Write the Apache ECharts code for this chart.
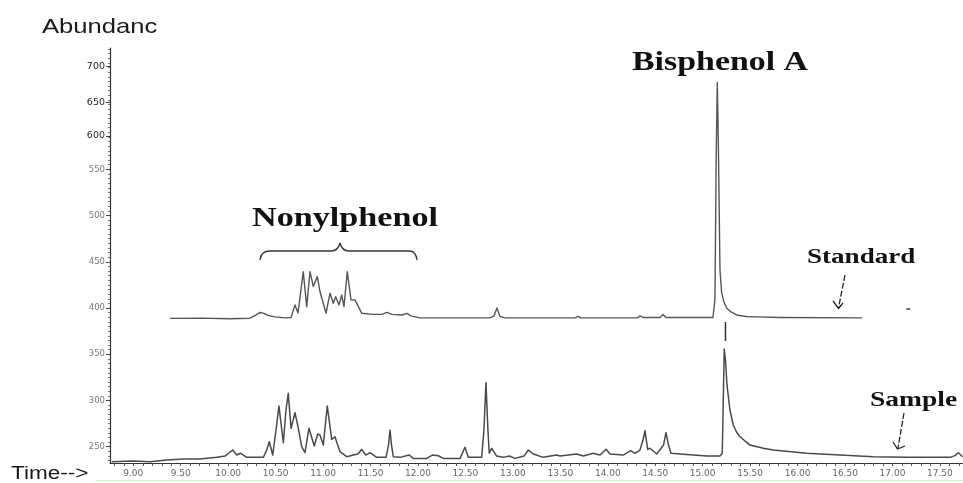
<!DOCTYPE html>
<html><head><meta charset="utf-8">
<script src="https://cdn.jsdelivr.net/npm/echarts@6.0.0/dist/echarts.min.js"></script>
<style>html,body{margin:0;padding:0;background:#fff}#c{width:963px;height:483px}</style>
</head><body><div id="c"></div>
<script>
// ---- data (retention time in min, abundance) ----
const standardTime = [9.387,9.703,10.019,10.230,10.293,10.335,10.377,10.419,10.493,10.599,10.662,10.704,10.736,10.791,10.827,10.862,10.897,10.939,10.967,11.031,11.073,11.107,11.133,11.168,11.196,11.220,11.255,11.294,11.336,11.407,11.526,11.621,11.673,11.726,11.831,11.884,11.926,12.021,12.442,12.758,12.800,12.832,12.864,12.917,13.654,13.686,13.718,14.308,14.340,14.371,14.550,14.582,14.613,15.108,15.129,15.143,15.154,15.166,15.182,15.200,15.224,15.253,15.298,15.358,15.456,15.569,15.815,16.679];
const standardAbundance = [388.8,389.1,388.4,389.0,392.5,395.2,394.2,392.0,390.4,389.3,389.8,403.4,394.7,439.4,401.5,439.4,423.2,434.0,417.8,394.4,416.0,405.2,412.3,403.4,414.2,401.5,439.4,408.8,408.8,394.4,393.1,393.1,395.2,393.1,392.5,394.2,391.5,389.3,389.3,389.3,391.5,400.1,390.9,389.3,389.3,390.9,389.3,389.3,391.5,389.8,389.8,393.1,389.8,389.8,408.8,571.1,644.0,571.1,441.2,416.3,406.6,400.1,395.8,392.5,390.9,390.4,389.8,389.3];
const sampleTime = [8.772,8.997,9.176,9.352,9.524,9.703,9.879,9.966,10.008,10.047,10.090,10.132,10.195,10.370,10.406,10.433,10.469,10.504,10.535,10.581,10.609,10.633,10.662,10.704,10.739,10.775,10.809,10.851,10.907,10.943,10.967,11.002,11.044,11.091,11.125,11.178,11.249,11.318,11.368,11.407,11.449,11.494,11.565,11.663,11.689,11.705,11.721,11.740,11.810,11.908,11.950,12.092,12.151,12.214,12.267,12.443,12.495,12.530,12.671,12.695,12.716,12.737,12.751,12.777,12.829,12.899,12.962,13.022,13.117,13.162,13.215,13.320,13.461,13.496,13.672,13.742,13.847,13.918,13.981,14.023,14.163,14.241,14.287,14.339,14.371,14.392,14.420,14.445,14.515,14.587,14.613,14.640,14.666,14.761,14.901,15.042,15.182,15.206,15.217,15.227,15.240,15.256,15.287,15.322,15.356,15.393,15.498,15.639,15.744,16.096,16.447,16.798,17.150,17.606,17.658,17.693,17.740];
const sampleAbundance = [233.8,234.5,233.8,235.6,236.7,236.7,238.5,239.9,243.2,246.4,241.0,242.9,238.5,238.5,246.4,255.4,241.0,268.1,294.0,254.3,289.7,307.8,269.9,286.8,269.9,250.0,243.5,269.9,250.8,263.7,262.7,251.8,294.0,258.0,260.8,244.6,239.2,241.0,242.1,247.2,241.0,243.5,238.5,238.5,251.8,268.1,251.8,239.2,238.5,241.0,237.4,237.4,241.0,240.2,237.4,237.4,249.4,238.5,238.5,268.1,319.3,268.1,242.9,248.3,239.9,238.5,239.9,237.4,239.9,246.4,242.1,238.5,241.0,239.9,242.1,239.9,242.9,241.0,247.2,242.1,241.0,245.7,242.9,246.4,257.3,267.3,247.2,248.3,242.1,251.8,265.2,251.8,242.9,242.1,241.0,239.9,239.9,242.9,300.5,355.7,343.8,316.8,289.7,273.5,265.9,260.8,251.8,248.3,246.4,242.9,241.0,239.2,238.5,238.5,240.4,243.5,239.2];
// small fragments of the original trace picture
const standardDotTime = [17.145,17.187];
const standardDotAbundance = [398.9,398.9];
const markTickTime = [15.240,15.240];
const markTickAbundance = [385.0,364.4];

const xTickLabels = ['9.00','9.50','10.00','10.50','11.00','11.50','12.00','12.50','13.00','13.50','14.00','14.50','15.00','15.50','16.00','16.50','17.00','17.50'];
const yTickLabels = ['250','300','350','400','450','500','550','600','650','700'];
const yTickValues = [250,300,350,400,450,500,550,586,622,661];

const zip = (a, b) => a.map((v, i) => [v, b[i]]);

const xMinor = [];
for (let i = 88; i <= 177; i++) xMinor.push(i / 10);
const yMinor = [];
for (let v = 235; v <= 680; v += 5) yMinor.push(v);
const xLabelNums = xTickLabels.map(Number);

const chart = echarts.init(document.getElementById('c'), null, {renderer: 'canvas'});
const traceStyle = {color: '#4a4a4a', width: 1.5, join: 'round'};

const bold = (text, x, y, size, sx) => ({
  type: 'text', x: x, y: y, scaleX: sx,
  style: {text: text, x: 0, y: 0, font: 'bold ' + size + 'px "Liberation Serif", "Times New Roman", serif',
          fill: '#111', textAlign: 'left', textVerticalAlign: 'middle'}
});
const plain = (text, x, y, size, sx) => ({
  type: 'text', x: x, y: y, scaleX: sx,
  style: {text: text, x: 0, y: 0, font: size + 'px "Liberation Sans", Arial, sans-serif',
          fill: '#1a1a1a', textAlign: 'left', textVerticalAlign: 'middle'}
});
const stroke = {stroke: '#333', lineWidth: 1.3, fill: null};
const seg = (x1, y1, x2, y2, st) => ({type: 'line', shape: {x1, y1, x2, y2}, style: st || stroke});
const curve = (x1, y1, cx, cy, x2, y2) => ({type: 'bezierCurve', shape: {x1, y1, x2, y2, cpx1: cx, cpy1: cy}, style: stroke});

chart.setOption({
  animation: false,
  backgroundColor: '#fff',
  grid: {left: 110, right: 0, top: 48, bottom: 20, containLabel: false},
  xAxis: {
    type: 'value', min: 8.7545, max: 17.743,
    axisLine: {show: true, lineStyle: {color: '#333', width: 1.2}},
    splitLine: {show: false},
    axisTick: {show: true, customValues: xMinor, length: 3, lineStyle: {color: '#555'}},
    axisLabel: {
      customValues: xLabelNums, margin: 6,
      formatter: v => { const i = xLabelNums.indexOf(+(+v).toFixed(2)); return i < 0 ? '' : xTickLabels[i]; },
      color: '#666', fontSize: 9, fontFamily: '"DejaVu Sans", sans-serif'
    }
  },
  yAxis: [{
    type: 'value', min: 232.4, max: 681.2,
    axisLine: {show: true, lineStyle: {color: '#333', width: 1.2}},
    splitLine: {show: false},
    axisTick: {show: true, customValues: yMinor, length: 2, lineStyle: {color: '#777'}},
    axisLabel: {
      customValues: yTickValues, margin: 5,
      formatter: v => {
        const i = yTickValues.indexOf(Math.round(v));
        if (i < 0) return '';
        return i >= 7 ? '{b|' + yTickLabels[i] + '}' : yTickLabels[i];
      },
      color: '#777', fontSize: 8.5, fontFamily: '"DejaVu Sans", sans-serif',
      rich: {b: {color: '#222', fontSize: 9.5, fontFamily: '"DejaVu Sans", sans-serif'}}
    }
  }, {
    type: 'value', min: 232.4, max: 681.2, position: 'left',
    axisLine: {show: false}, splitLine: {show: false},
    axisTick: {show: true, customValues: yTickValues, length: 4, lineStyle: {color: '#444'}},
    axisLabel: {show: false}
  }],
  series: [
    {type: 'line', name: 'Standard', data: zip(standardTime, standardAbundance), showSymbol: false, symbol: 'none', lineStyle: {color: '#555', width: 1.4, join: 'round'}},
    {type: 'line', name: 'Sample', data: zip(sampleTime, sampleAbundance), showSymbol: false, symbol: 'none', lineStyle: traceStyle},
    {type: 'line', data: zip(standardDotTime, standardDotAbundance), symbol: 'none', lineStyle: {color: '#444', width: 1.5}},
    {type: 'line', data: zip(markTickTime, markTickAbundance), symbol: 'none', lineStyle: {color: '#333', width: 1.5}}
  ],
  graphic: [
    plain('Abundanc', 42, 27, 21, 1.22),
    plain('Time-->', 11, 474, 18, 1.25),
    bold('Bisphenol A', 632, 63, 28, 1.21),
    bold('Nonylphenol', 252, 219, 28, 1.22),
    bold('Standard', 807, 257, 22, 1.23),
    bold('Sample', 870, 400, 22, 1.25),
    curve(260, 260, 261, 251, 270, 251),
    seg(270, 251, 331, 251),
    curve(331, 251, 338, 251, 340, 243),
    curve(340, 243, 342, 251, 349, 251),
    seg(349, 251, 409, 251),
    curve(409, 251, 416, 251, 417, 260),
    seg(845, 275, 838.5, 308, {stroke: '#222', lineWidth: 1.3, lineDash: [6, 2]}),
    {type: 'polyline', shape: {points: [[833, 301], [838.5, 308.5], [843, 303]]}, style: {stroke: '#222', lineWidth: 1.3, fill: null}},
    seg(904, 413, 898, 448, {stroke: '#222', lineWidth: 1.3, lineDash: [6, 2]}),
    {type: 'polyline', shape: {points: [[893, 442], [897.5, 449], [905, 446]]}, style: {stroke: '#222', lineWidth: 1.3, fill: null}},
    seg(95, 480.5, 963, 480.5, {stroke: '#d4ecd0', lineWidth: 1})
  ]
});
</script>
</body></html>
